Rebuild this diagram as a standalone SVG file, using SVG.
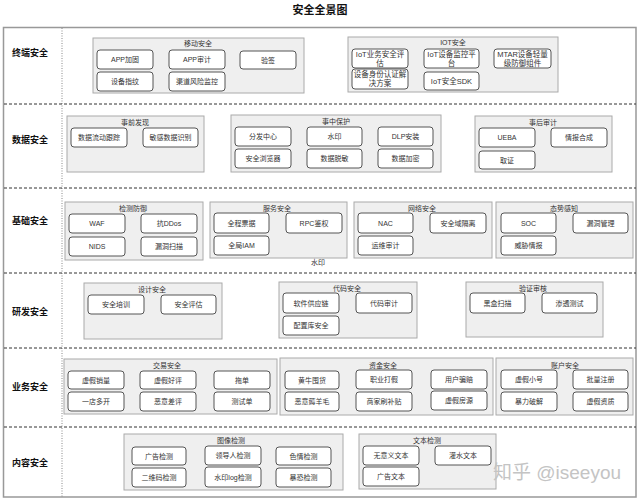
<svg xmlns="http://www.w3.org/2000/svg" width="640" height="500" viewBox="0 0 640 500">
<style>
text{font-family:"Liberation Sans","Noto Sans CJK SC",sans-serif;fill:#333;text-anchor:middle;dominant-baseline:central}
.title{font-size:11px;font-weight:bold;fill:#111}
.row{font-size:9px;font-weight:bold;fill:#111}
.grp rect{fill:#efefef;stroke:#aaa;stroke-width:1}
.grp>text{font-size:7px}
.node rect{fill:#fff;stroke:#555;stroke-width:1}
.node text{font-size:7px}
.iot text{font-size:7.5px}
.sep{stroke:#333;stroke-width:1;stroke-dasharray:3 2;fill:none}
.vsep{stroke:#888;stroke-width:1;stroke-dasharray:1 1.5;fill:none}
.wm{font-size:19px;fill:#c4c4c4;text-anchor:start}
</style>
<rect x="0" y="0" width="640" height="500" fill="#fff"/>
<text class="title" x="320" y="10">安全全景图</text>
<rect x="3.5" y="27.5" width="632.5" height="469.5" fill="none" stroke="#999" stroke-width="1.5"/>
<g id="grid">
<line class="vsep" x1="62" y1="28" x2="62" y2="497"/>
<line class="sep" x1="4" y1="104" x2="636" y2="104"/>
<line class="sep" x1="4" y1="188" x2="636" y2="188"/>
<line class="sep" x1="4" y1="273" x2="636" y2="273"/>
<line class="sep" x1="4" y1="348" x2="636" y2="348"/>
<line class="sep" x1="4" y1="427" x2="636" y2="427"/>
</g>
<g id="connectors"></g>
<g id="row-labels">
<text class="row" x="30" y="53">终端安全</text>
<text class="row" x="30" y="140">数据安全</text>
<text class="row" x="30" y="221">基础安全</text>
<text class="row" x="30" y="312">研发安全</text>
<text class="row" x="30" y="387">业务安全</text>
<text class="row" x="30" y="463">内容安全</text>
</g>

<!-- Row 1 -->
<g id="g-mobile" class="grp"><rect x="93" y="38" width="211" height="55"/><text x="198" y="43">移动安全</text></g>
<g id="n-app-jiagu" class="node"><rect x="97" y="50" width="56" height="19" rx="3"/><text x="125" y="59.5">APP加固</text></g>
<g id="n-app-shenji" class="node"><rect x="169" y="50" width="56" height="19" rx="3"/><text x="197" y="59.5">APP审计</text></g>
<g id="n-yanqian" class="node"><rect x="240" y="51" width="56" height="18" rx="3"/><text x="268" y="60">验签</text></g>
<g id="n-shebei-zhiwen" class="node"><rect x="97" y="72" width="56" height="19" rx="3"/><text x="125" y="81.5">设备指纹</text></g>
<g id="n-qudao" class="node"><rect x="169" y="72" width="56" height="19" rx="3"/><text x="197" y="81.5">渠道风险监控</text></g>

<g id="g-iot" class="grp"><rect x="348" y="37" width="210" height="55"/><text x="453" y="42">IOT安全</text></g>
<g id="n-iot-pinggu" class="node iot"><rect x="352" y="49" width="56" height="19" rx="3"/><text x="380" y="54">IoT业务安全评</text><text x="380" y="63">估</text></g>
<g id="n-iot-jiankong" class="node iot"><rect x="424" y="49" width="55" height="19" rx="3"/><text x="451.5" y="54">IoT设备监控平</text><text x="451.5" y="63">台</text></g>
<g id="n-mtar" class="node iot"><rect x="494" y="49" width="57" height="19" rx="3"/><text x="522.5" y="54">MTAR设备轻量</text><text x="522.5" y="63">级防御组件</text></g>
<g id="n-iot-renzheng" class="node iot"><rect x="352" y="69" width="56" height="20" rx="3"/><text x="380" y="74.5">设备身份认证解</text><text x="380" y="83.5">决方案</text></g>
<g id="n-iot-sdk" class="node iot"><rect x="424" y="72" width="55" height="18" rx="3"/><text x="451.5" y="81">IoT安全SDK</text></g>

<!-- Row 2 -->
<g id="g-shiqian" class="grp"><rect x="67" y="116" width="137" height="56"/><text x="135" y="122">事前发现</text></g>
<g id="n-liudong" class="node"><rect x="71" y="128" width="56" height="19" rx="3"/><text x="99" y="137.5">数据流动跟踪</text></g>
<g id="n-mingan" class="node"><rect x="143" y="128" width="55" height="19" rx="3"/><text x="170.5" y="137.5">敏感数据识别</text></g>

<g id="g-shizhong" class="grp"><rect x="231" y="115" width="210" height="57"/><text x="336" y="121">事中保护</text></g>
<g id="n-fenfa" class="node"><rect x="235" y="127" width="56" height="19" rx="3"/><text x="263" y="136.5">分发中心</text></g>
<g id="n-liulanqi" class="node"><rect x="235" y="149" width="56" height="19" rx="3"/><text x="263" y="158.5">安全浏览器</text></g>
<g id="n-shuiyin" class="node"><rect x="307" y="127" width="55" height="19" rx="3"/><text x="334.5" y="136.5">水印</text></g>
<g id="n-tuomin" class="node"><rect x="307" y="149" width="55" height="19" rx="3"/><text x="334.5" y="158.5">数据脱敏</text></g>
<g id="n-dlp" class="node"><rect x="378" y="127" width="55" height="19" rx="3"/><text x="405.5" y="136.5">DLP安装</text></g>
<g id="n-jiami" class="node"><rect x="378" y="149" width="55" height="19" rx="3"/><text x="405.5" y="158.5">数据加密</text></g>

<g id="g-shihou" class="grp"><rect x="475" y="116" width="137" height="56"/><text x="543" y="122">事后审计</text></g>
<g id="n-ueba" class="node"><rect x="479" y="128" width="56" height="19" rx="3"/><text x="507" y="137.5">UEBA</text></g>
<g id="n-qingbao-hecheng" class="node"><rect x="551" y="128" width="56" height="19" rx="3"/><text x="579" y="137.5">情报合成</text></g>
<g id="n-quzheng" class="node"><rect x="479" y="151" width="56" height="18" rx="3"/><text x="507" y="160">取证</text></g>

<!-- Row 3 -->
<g id="g-jiance" class="grp"><rect x="65" y="202" width="138" height="58"/><text x="133" y="208">检测防御</text></g>
<g id="n-waf" class="node"><rect x="69" y="214" width="56" height="19" rx="3"/><text x="97" y="223.5">WAF</text></g>
<g id="n-ddos" class="node"><rect x="141" y="214" width="56" height="19" rx="3"/><text x="169" y="223.5">抗DDos</text></g>
<g id="n-nids" class="node"><rect x="69" y="237" width="56" height="19" rx="3"/><text x="97" y="246.5">NIDS</text></g>
<g id="n-loudong-saomiao" class="node"><rect x="141" y="237" width="56" height="19" rx="3"/><text x="169" y="246.5">漏洞扫描</text></g>

<g id="g-fuwu" class="grp"><rect x="210" y="202" width="137" height="56"/><text x="277" y="208">服务安全</text></g>
<g id="n-piaoju" class="node"><rect x="214" y="213" width="55" height="20" rx="3"/><text x="241.5" y="223">全程票据</text></g>
<g id="n-rpc" class="node"><rect x="286" y="213" width="56" height="20" rx="3"/><text x="314" y="223">RPC鉴权</text></g>
<g id="n-iam" class="node"><rect x="214" y="236" width="55" height="19" rx="3"/><text x="241.5" y="245.5">全局IAM</text></g>
<text x="318" y="262" style="font-size:7px">水印</text>

<g id="g-wangluo" class="grp"><rect x="354" y="202" width="138" height="56"/><text x="422" y="208">网络安全</text></g>
<g id="n-nac" class="node"><rect x="358" y="213" width="55" height="20" rx="3"/><text x="385.5" y="223">NAC</text></g>
<g id="n-geli" class="node"><rect x="430" y="213" width="56" height="20" rx="3"/><text x="458" y="223">安全域隔离</text></g>
<g id="n-yunwei" class="node"><rect x="358" y="236" width="55" height="19" rx="3"/><text x="385.5" y="245.5">运维审计</text></g>

<g id="g-taishi" class="grp"><rect x="496" y="202" width="137" height="56"/><text x="564" y="208">态势感知</text></g>
<g id="n-soc" class="node"><rect x="501" y="213" width="55" height="20" rx="3"/><text x="528.5" y="223">SOC</text></g>
<g id="n-loudong-guanli" class="node"><rect x="573" y="213" width="55" height="20" rx="3"/><text x="600.5" y="223">漏洞管理</text></g>
<g id="n-weixie" class="node"><rect x="501" y="236" width="55" height="19" rx="3"/><text x="528.5" y="245.5">威胁情报</text></g>

<!-- Row 4 -->
<g id="g-sheji" class="grp"><rect x="84" y="283" width="138" height="56"/><text x="152" y="289">设计安全</text></g>
<g id="n-peixun" class="node"><rect x="88" y="295" width="56" height="19" rx="3"/><text x="116" y="304.5">安全培训</text></g>
<g id="n-pinggu" class="node"><rect x="161" y="295" width="55" height="19" rx="3"/><text x="188.5" y="304.5">安全评估</text></g>

<g id="g-daima" class="grp"><rect x="279" y="282" width="138" height="56"/><text x="347" y="288">代码安全</text></g>
<g id="n-gongying" class="node"><rect x="283" y="293" width="56" height="20" rx="3"/><text x="311" y="303">软件供应链</text></g>
<g id="n-peizhiku" class="node"><rect x="283" y="316" width="56" height="19" rx="3"/><text x="311" y="325.5">配置库安全</text></g>
<g id="n-daima-shenji" class="node"><rect x="356" y="293" width="56" height="20" rx="3"/><text x="384" y="303">代码审计</text></g>

<g id="g-yanzheng" class="grp"><rect x="466" y="282" width="137" height="55"/><text x="533" y="288">验证审核</text></g>
<g id="n-heihe" class="node"><rect x="470" y="293" width="55" height="20" rx="3"/><text x="497.5" y="303">黑盒扫描</text></g>
<g id="n-shentou" class="node"><rect x="542" y="293" width="55" height="20" rx="3"/><text x="569.5" y="303">渗透测试</text></g>

<!-- Row 5 -->
<g id="g-jiaoyi" class="grp"><rect x="64" y="359" width="213" height="55"/><text x="167" y="365">交易安全</text></g>
<g id="n-xiaoliang" class="node"><rect x="68" y="371" width="56" height="18" rx="3"/><text x="96" y="380">虚假销量</text></g>
<g id="n-haoping" class="node"><rect x="140" y="371" width="56" height="18" rx="3"/><text x="168" y="380">虚假好评</text></g>
<g id="n-tuodan" class="node"><rect x="214" y="371" width="56" height="18" rx="3"/><text x="242" y="380">拖单</text></g>
<g id="n-duokai" class="node"><rect x="68" y="392" width="56" height="19" rx="3"/><text x="96" y="401.5">一店多开</text></g>
<g id="n-chaping" class="node"><rect x="140" y="392" width="56" height="19" rx="3"/><text x="168" y="401.5">恶意差评</text></g>
<g id="n-ceshidan" class="node"><rect x="214" y="392" width="56" height="19" rx="3"/><text x="242" y="401.5">测试单</text></g>

<g id="g-zijin" class="grp"><rect x="280" y="358" width="213" height="57"/><text x="383" y="365">资金安全</text></g>
<g id="n-huangniu" class="node"><rect x="285" y="371" width="54" height="18" rx="3"/><text x="312" y="380">黄牛囤货</text></g>
<g id="n-yangmao" class="node"><rect x="285" y="392" width="54" height="19" rx="3"/><text x="312" y="401.5">恶意薅羊毛</text></g>
<g id="n-dajia" class="node"><rect x="356" y="370" width="56" height="19" rx="3"/><text x="384" y="379.5">职业打假</text></g>
<g id="n-butie" class="node"><rect x="356" y="392" width="56" height="19" rx="3"/><text x="384" y="401.5">商家刷补贴</text></g>
<g id="n-pianpei" class="node"><rect x="431" y="370" width="56" height="19" rx="3"/><text x="459" y="379.5">用户骗赔</text></g>
<g id="n-fangyuan" class="node"><rect x="431" y="391" width="56" height="19" rx="3"/><text x="459" y="400.5">虚假房源</text></g>

<g id="g-zhanghu" class="grp"><rect x="496" y="358" width="137" height="57"/><text x="565" y="365">账户安全</text></g>
<g id="n-xiaohao" class="node"><rect x="501" y="370" width="56" height="19" rx="3"/><text x="529" y="379.5">虚假小号</text></g>
<g id="n-zhuce" class="node"><rect x="573" y="370" width="55" height="19" rx="3"/><text x="600.5" y="379.5">批量注册</text></g>
<g id="n-pojie" class="node"><rect x="501" y="392" width="56" height="19" rx="3"/><text x="529" y="401.5">暴力破解</text></g>
<g id="n-zizhi" class="node"><rect x="573" y="392" width="55" height="19" rx="3"/><text x="600.5" y="401.5">虚假资质</text></g>

<!-- Row 6 -->
<g id="g-tuxiang" class="grp"><rect x="124" y="434" width="219" height="56"/><text x="231" y="440">图像检测</text></g>
<g id="n-guanggao-jiance" class="node"><rect x="132" y="447" width="54" height="18" rx="3"/><text x="159" y="456">广告检测</text></g>
<g id="n-lingdaoren" class="node"><rect x="205" y="446" width="56" height="19" rx="3"/><text x="233" y="455.5">领导人检测</text></g>
<g id="n-seqing" class="node"><rect x="276" y="447" width="55" height="18" rx="3"/><text x="303.5" y="456">色情检测</text></g>
<g id="n-erweima" class="node"><rect x="132" y="468" width="54" height="19" rx="3"/><text x="159" y="477.5">二维码检测</text></g>
<g id="n-shuiyin-log" class="node"><rect x="205" y="467" width="56" height="20" rx="3"/><text x="233" y="477">水印log检测</text></g>
<g id="n-baokong" class="node"><rect x="276" y="468" width="55" height="19" rx="3"/><text x="303.5" y="477.5">暴恐检测</text></g>

<g id="g-wenben" class="grp"><rect x="359" y="434" width="137" height="55"/><text x="427" y="440">文本检测</text></g>
<g id="n-wuyiyi" class="node"><rect x="363" y="446" width="56" height="19" rx="3"/><text x="391" y="455.5">无意义文本</text></g>
<g id="n-guanshui" class="node"><rect x="435" y="446" width="56" height="19" rx="3"/><text x="463" y="455.5">灌水文本</text></g>
<g id="n-guanggao-wenben" class="node"><rect x="363" y="467" width="56" height="19" rx="3"/><text x="391" y="476.5">广告文本</text></g>

<text class="wm" x="493" y="472">知乎 @iseeyou</text>
</svg>
